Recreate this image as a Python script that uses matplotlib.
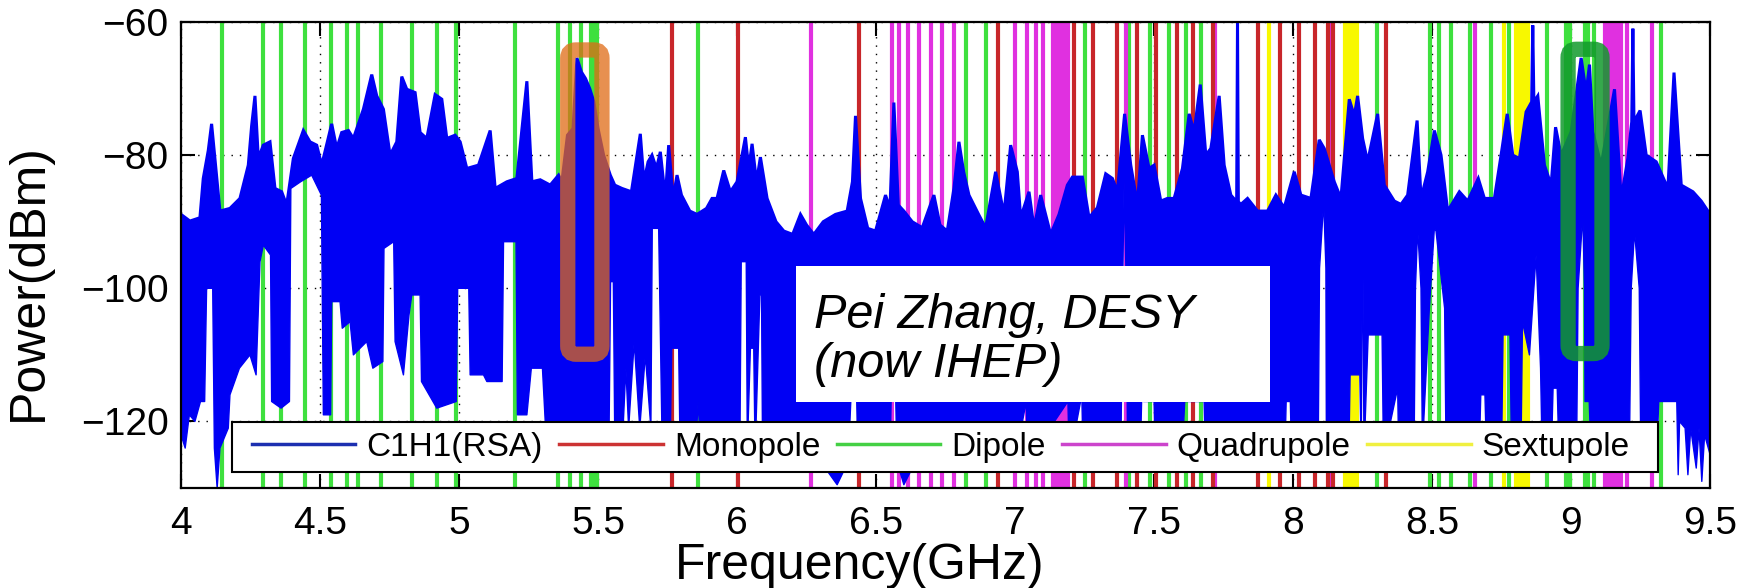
import numpy as np
import matplotlib
matplotlib.use("Agg")
import matplotlib.pyplot as plt
from matplotlib.lines import Line2D
from matplotlib.patches import FancyBboxPatch, Rectangle

plt.rcParams['font.family'] = ['Liberation Sans', 'DejaVu Sans']

# ---------------- data ----------------
# upper envelope of the measured spectrum C1H1(RSA): frequency (GHz), power (dBm)
upper_f = [4.0, 4.032, 4.068, 4.08, 4.098, 4.11, 4.122, 4.14, 4.176, 4.212, 4.242, 4.254, 4.266, 4.278,
           4.296, 4.32, 4.338, 4.362, 4.38, 4.404, 4.44, 4.464, 4.488, 4.506, 4.542, 4.56, 4.578, 4.602,
           4.62, 4.656, 4.686, 4.704, 4.728, 4.752, 4.776, 4.794, 4.812, 4.842, 4.86, 4.884, 4.914, 4.938,
           4.956, 4.986, 5.004, 5.028, 5.07, 5.112, 5.13, 5.172, 5.208, 5.244, 5.262, 5.292, 5.328, 5.358,
           5.37, 5.39, 5.41, 5.424, 5.44, 5.455, 5.47, 5.485, 5.5, 5.52, 5.544, 5.56, 5.586, 5.62, 5.652,
           5.665, 5.68, 5.694, 5.71, 5.724, 5.742, 5.754, 5.77, 5.784, 5.80, 5.83, 5.856, 5.89, 5.91, 5.928,
           5.952, 5.976, 6.0, 6.03, 6.042, 6.054, 6.07, 6.084, 6.108, 6.14, 6.168, 6.2, 6.228, 6.25, 6.276,
           6.31, 6.354, 6.396, 6.415, 6.426, 6.444, 6.47, 6.498, 6.534, 6.55, 6.564, 6.58, 6.6, 6.63, 6.666,
           6.708, 6.73, 6.756, 6.78, 6.798, 6.815, 6.834, 6.87, 6.894, 6.93, 6.96, 6.984, 7.008, 7.02, 7.05,
           7.068, 7.092, 7.128, 7.158, 7.188, 7.206, 7.242, 7.266, 7.296, 7.326, 7.35, 7.368, 7.394, 7.416,
           7.44, 7.458, 7.482, 7.5, 7.524, 7.548, 7.572, 7.602, 7.626, 7.644, 7.666, 7.686, 7.704, 7.734,
           7.752, 7.776, 7.797, 7.80, 7.803, 7.812, 7.836, 7.872, 7.908, 7.938, 7.968, 8.004, 8.028, 8.064,
           8.094, 8.112, 8.148, 8.172, 8.202, 8.22, 8.232, 8.25, 8.268, 8.304, 8.328, 8.364, 8.388, 8.412,
           8.446, 8.46, 8.484, 8.508, 8.532, 8.556, 8.598, 8.628, 8.666, 8.688, 8.724, 8.748, 8.77, 8.79,
           8.814, 8.838, 8.858, 8.862, 8.866, 8.88, 8.904, 8.928, 8.944, 8.964, 9.0, 9.036, 9.054, 9.066,
           9.078, 9.108, 9.156, 9.18, 9.204, 9.218, 9.222, 9.226, 9.248, 9.27, 9.306, 9.348, 9.37, 9.396,
           9.438, 9.468, 9.5]
upper_db = [-88.9, -89.9, -89.4, -83.5, -79.3, -75.3, -80.5, -88.4, -88.0, -86.5, -81.5, -75.6, -71.1, -80.5,
            -78.5, -78.0, -85.0, -85.5, -87.5, -80.5, -76.3, -78.0, -78.5, -81.5, -75.3, -79.0, -76.6, -76.3,
            -77.5, -73.1, -67.9, -71.1, -73.1, -80.0, -78.0, -68.2, -70.1, -70.6, -76.6, -77.5, -70.9, -71.6,
            -77.5, -77.0, -78.0, -82.0, -81.5, -76.3, -85.0, -84.0, -83.5, -68.9, -84.0, -83.7, -84.5, -83.0,
            -84.0, -77.0, -76.0, -65.4, -67.5, -68.5, -70.0, -72.0, -76.0, -80.0, -83.0, -84.5, -85.0, -85.5, -76.8,
            -84.0, -81.0, -80.0, -82.0, -79.5, -86.5, -78.5, -86.5, -83.0, -86.0, -88.4, -88.9, -88.0, -86.5, -86.5,
            -82.3, -85.5, -84.0, -77.3, -82.0, -78.3, -84.0, -80.3, -86.5, -90.0, -91.4, -91.9, -88.9, -90.5, -91.9,
            -90.0, -88.9, -88.4, -84.0, -74.1, -86.5, -91.0, -91.4, -86.0, -88.0, -72.1, -87.5, -88.4, -90.0, -90.9,
            -86.0, -90.5, -91.4, -85.0, -78.0, -82.5, -86.0, -89.0, -90.9, -82.5, -88.9, -78.5, -82.5, -89.4, -85.5,
            -90.9, -86.0, -91.9, -88.9, -84.5, -83.3, -83.3, -89.4, -87.9, -82.8, -83.5, -85.5, -73.8, -81.5,
            -87.4, -77.0, -82.0, -81.5, -86.9, -86.5, -86.5, -82.0, -73.8, -76.5, -69.4, -80.0, -79.0, -71.1,
            -81.5, -86.0, -87.0, -60.0, -87.0, -87.4, -86.5, -88.4, -88.4, -86.0, -87.9, -82.5, -86.0, -86.5,
            -77.7, -79.0, -84.0, -86.5, -71.6, -74.1, -71.1, -77.5, -81.0, -73.8, -84.5, -86.9, -87.4, -86.0,
            -74.8, -86.5, -82.5, -76.3, -80.0, -88.4, -85.5, -86.9, -83.5, -86.5, -86.5, -80.0, -73.8, -80.0,
            -80.5, -73.5, -72.0, -60.5, -72.0, -71.1, -81.5, -84.5, -75.8, -80.0, -76.5, -65.4, -70.6, -66.4,
            -76.5, -81.5, -70.1, -86.5, -80.5, -75.0, -61.0, -75.0, -73.3, -80.0, -81.0, -85.0, -67.6, -84.5,
            -85.5, -86.9, -88.9]

# lower envelope of the measured spectrum
lower_f = [4.0, 4.015, 4.03, 4.05, 4.07, 4.085, 4.092, 4.114, 4.12, 4.13, 4.14, 4.17, 4.176, 4.21, 4.248,
           4.27, 4.284, 4.296, 4.322, 4.326, 4.36, 4.39, 4.395, 4.43, 4.47, 4.505, 4.512, 4.538, 4.542,
           4.572, 4.58, 4.608, 4.62, 4.668, 4.69, 4.726, 4.73, 4.765, 4.77, 4.8, 4.82, 4.83, 4.86, 4.865,
           4.92, 4.99, 4.995, 5.035, 5.04, 5.088, 5.1, 5.155, 5.16, 5.205, 5.21, 5.244, 5.26, 5.3, 5.31,
           5.36, 5.4, 5.45, 5.5, 5.54, 5.545, 5.555, 5.56, 5.59, 5.6, 5.61, 5.63, 5.65, 5.67, 5.69, 5.695,
           5.718, 5.73, 5.76, 5.765, 5.79, 5.795, 5.85, 5.86, 5.87, 5.96, 5.965, 5.97, 6.01, 6.015, 6.024,
           6.033, 6.037, 6.048, 6.06, 6.065, 6.082, 6.088, 6.092, 6.2, 6.3, 6.36, 6.4, 6.41, 6.43, 6.435,
           6.55, 6.555, 6.57, 6.575, 6.6, 6.63, 6.8, 6.9, 7.0, 7.04, 7.045, 7.19, 7.195, 7.24, 7.245, 7.38,
           7.387, 7.392, 7.40, 7.405, 7.45, 7.455, 7.458, 7.462, 7.5, 7.505, 7.6, 7.61, 7.68, 7.685, 7.97,
           7.975, 7.99, 7.995, 8.09, 8.095, 8.11, 8.118, 8.12, 8.2, 8.205, 8.24, 8.245, 8.25, 8.255, 8.27,
           8.32, 8.325, 8.376, 8.38, 8.435, 8.44, 8.448, 8.46, 8.465, 8.49, 8.508, 8.514, 8.545, 8.55, 8.67,
           8.675, 8.69, 8.695, 8.75, 8.755, 8.78, 8.785, 8.82, 8.825, 8.85, 8.874, 8.89, 8.895, 8.93, 8.935,
           8.95, 8.955, 9.02, 9.025, 9.042, 9.048, 9.05, 9.065, 9.07, 9.21, 9.216, 9.228, 9.245, 9.25, 9.31,
           9.315, 9.38, 9.385, 9.39, 9.41, 9.42, 9.43, 9.45, 9.46, 9.47, 9.48, 9.5]
lower_db = [-122, -124, -119, -120, -117, -117, -100, -100, -124, -130, -124, -121, -116, -112, -110,
            -113, -96, -93.5, -95, -117, -118, -117, -85, -84, -83, -86, -119, -119, -102,
            -102, -106, -105, -110, -108, -112, -111, -94, -93, -108, -113, -104, -101, -101, -114,
            -118, -117, -100, -100, -113, -113, -114, -114, -93, -93, -119, -119, -112, -112, -120,
            -121, -121, -122, -121, -120, -99, -99, -122, -121, -112, -121, -108, -121, -110, -121, -91,
            -91, -122, -122, -109, -109, -124, -125, -117, -125, -125, -118, -126, -125, -96, -96,
            -96, -124, -109, -109, -125, -101, -101, -126, -126, -126, -129.5, -126, -116, -116, -126,
            -126, -115, -115, -126, -129.5, -127, -126, -126, -126, -117, -126, -117, -126, -116, -126, -126,
            -100, -84, -100, -126, -126, -117, -90.6, -117, -117, -126, -126, -117, -117, -126, -126,
            -117, -117, -126, -126, -97, -87, -97, -126, -126, -113, -113, -125, -88, -125, -107,
            -107, -125, -115, -125, -125, -100, -91, -100, -124, -103, -91, -91.4, -103, -124, -124,
            -116, -116, -124, -124, -107, -107, -123, -123, -105, -110, -95, -112, -123, -123, -115,
            -115, -123, -123, -100, -88.9, -100, -117, -117, -123, -123, -100, -91.4, -100, -122, -123,
            -117, -117, -128, -120, -121, -128, -121, -127, -121, -129, -122, -125]

# calculated mode frequencies (GHz)
monopole_f = [5.765, 6.005, 6.438, 6.937, 7.211, 7.282, 7.366, 7.440, 7.508, 7.582, 7.640, 7.713,
              7.875, 7.953, 8.020, 8.078, 8.126, 8.144, 8.335]
dipole_f = [4.147, 4.295, 4.360, 4.445, 4.54, 4.597, 4.638, 4.72, 4.83, 4.92, 4.99, 5.20, 5.357, 5.40,
            5.44, 5.475, 5.485, 5.495, 5.86, 6.822, 6.896, 7.252, 7.41, 7.486, 7.552, 7.614, 7.667,
            8.301, 8.494, 8.524, 8.568, 8.635, 8.713, 8.776, 8.912, 8.98, 8.995, 9.05, 9.06, 9.084, 9.324]
quadrupole_f = [6.267, 6.558, 6.583, 6.615, 6.656, 6.698, 6.737, 6.780, 7.001, 7.043, 7.075, 7.101,
                7.135, 7.15, 7.165, 7.18, 7.19, 7.398, 7.718, 8.139, 8.656, 9.12, 9.135, 9.15, 9.165,
                9.18, 9.2, 9.292]
sextupole_f = [7.914, 8.185, 8.20, 8.215, 8.23, 8.759, 8.80, 8.815, 8.83, 8.845]

x_ticks = [4, 4.5, 5, 5.5, 6, 6.5, 7, 7.5, 8, 8.5, 9, 9.5]
x_ticklabels = ['4', '4.5', '5', '5.5', '6', '6.5', '7', '7.5', '8', '8.5', '9', '9.5']
y_ticks = [-60, -80, -100, -120]
legend_labels = ['C1H1(RSA)', 'Monopole', 'Dipole', 'Quadrupole', 'Sextupole']

# highlighted regions (GHz, dBm)
orange_box = (5.391, 5.514, -109.9, -64.2)
green_box = (8.989, 9.111, -109.8, -64.1)

# ---------------- styling ----------------
BLUE = '#0000f4'
RED = '#c8262a'
GREEN = '#3ee03e'
MAGENTA = '#e030e0'
YELLOW = '#f8f800'

fig = plt.figure(figsize=(17.54, 5.88), dpi=100)
ax = fig.add_axes([0.1032, 0.170, 0.8718, 0.7926])
ax.set_xlim(4, 9.5)
ax.set_ylim(-130, -60)

ax.grid(True, color='black', linestyle=(0, (1, 5)), linewidth=1.0, zorder=0)
ax.set_axisbelow(True)

lw_mode = 3.0
ax.vlines(dipole_f, -130, -60, colors=GREEN, lw=lw_mode, zorder=1)
ax.vlines(sextupole_f, -130, -60, colors=YELLOW, lw=lw_mode, zorder=1)
ax.vlines(quadrupole_f, -130, -60, colors=MAGENTA, lw=lw_mode, zorder=1)
ax.vlines(monopole_f, -130, -60, colors=RED, lw=lw_mode, zorder=1)

uf = np.asarray(upper_f); ud = np.asarray(upper_db)
lf = np.asarray(lower_f); ld = np.asarray(lower_db)
ax.fill(np.r_[uf, lf[::-1]], np.r_[ud, ld[::-1]], color=BLUE, lw=0, zorder=2)
ax.plot(uf, ud, color=BLUE, lw=2.2, zorder=2, solid_joinstyle='miter')
ax.plot(lf, ld, color=BLUE, lw=1.0, zorder=2)

# highlight boxes (rounded), aspect corrected
px_per_x = 1528 / 5.5
px_per_y = 466 / 70.0
asp = px_per_x / px_per_y
for (x0, x1, y0, y1), col, al in [(orange_box, '#e06b15', 0.75), (green_box, '#129a2c', 0.85)]:
    p = FancyBboxPatch((x0, y0), x1 - x0, y1 - y0,
                       boxstyle='round,pad=0,rounding_size=0.03',
                       mutation_aspect=asp, transform=ax.transData,
                       fill=False, edgecolor=col, alpha=al, lw=11, zorder=3)
    ax.add_patch(p)

# annotation box
ax.add_patch(Rectangle((0.402, 0.185), 0.31, 0.291, transform=ax.transAxes,
                       facecolor='white', edgecolor='none', zorder=4))
ax.text(0.414, 0.418, 'Pei Zhang, DESY\n(now IHEP)', transform=ax.transAxes,
        fontsize=35, style='italic', va='top', ha='left', linespacing=1.1, zorder=5)

ax.set_xticks(x_ticks)
ax.set_xticklabels(x_ticklabels)
ax.set_yticks(y_ticks)
ax.tick_params(axis='both', which='major', direction='in', length=10, width=1.5,
               labelsize=28, top=True, right=True, pad=9)
ax.tick_params(axis='x', pad=13)
for s in ax.spines.values():
    s.set_linewidth(1.6)
    s.set_zorder(6)

ax.set_xlabel('Frequency(GHz)', fontsize=36, va='top')
ax.xaxis.set_label_coords(0.444, -0.118)
ax.set_ylabel('Power(dBm)', fontsize=36, va='center')
ax.yaxis.set_label_coords(-0.0995, 0.442)

# legend with its own frame
ax.add_patch(Rectangle((0.0334, 0.034), 0.9326, 0.108, transform=ax.transAxes,
                       facecolor='white', edgecolor='black', lw=1.5, zorder=7))
handles = [Line2D([], [], color='#1c2fb0', lw=2.5),
           Line2D([], [], color='#cc3333', lw=2.5),
           Line2D([], [], color='#44d044', lw=2.5),
           Line2D([], [], color='#cc44cc', lw=2.5),
           Line2D([], [], color='#f0f040', lw=2.5)]
leg = ax.legend(handles, legend_labels, ncol=5, loc='center left',
                bbox_to_anchor=(0.0465, 0.088), fontsize=24, frameon=False,
                handlelength=3.1, handletextpad=0.33, columnspacing=0.5,
                borderaxespad=0, borderpad=0)
leg.set_zorder(8)

fig.savefig('out.png', dpi=100)
